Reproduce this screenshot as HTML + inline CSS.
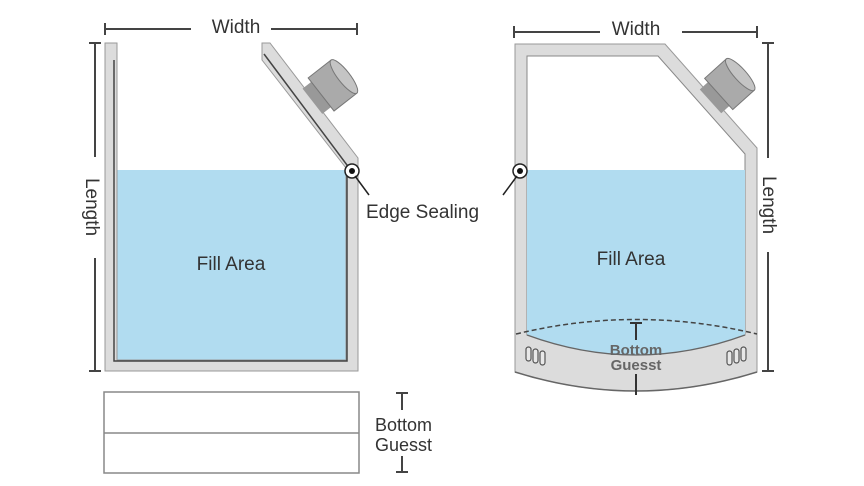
<!DOCTYPE html>
<html><head><style>
html,body{margin:0;padding:0;background:#fff;}
svg{display:block;}
text{font-family:"Liberation Sans",sans-serif;fill:#333;}
</style></head><body>
<svg width="864" height="486" viewBox="0 0 864 486" xmlns="http://www.w3.org/2000/svg">
<rect width="864" height="486" fill="#fff"/>
<!-- LEFT POUCH -->
<rect x="117" y="170" width="229" height="190" fill="#b1dcf0"/>
<g fill="#dcdcdc" stroke="#999" stroke-width="1">
<path d="M105 43 L117 43 L117 360 L346 360 L346 168 L262 60 L262 43 L270 43 L358 158 L358 371 L105 371 Z"/>
</g>
<path d="M114 60 L114 361 L347 361 L347 165 L264 54" fill="none" stroke="#444" stroke-width="1.5"/>
<!-- spout -->
<g transform="translate(314,100) rotate(52)">
<rect x="-16" y="-10" width="32" height="12" fill="#999"/>
<rect x="-21" y="-38" width="42" height="29" fill="#aaa" stroke="#777"/>
<ellipse cx="0" cy="-38" rx="21" ry="6" fill="#c4c4c4" stroke="#777"/>
</g>
<!-- width left -->
<g stroke="#444" stroke-width="2">
<line x1="105" y1="29" x2="191" y2="29"/><line x1="271" y1="29" x2="357" y2="29"/>
<line x1="105" y1="23" x2="105" y2="35"/><line x1="357" y1="23" x2="357" y2="35"/>
<line x1="95" y1="43" x2="95" y2="157"/><line x1="95" y1="258" x2="95" y2="371"/>
<line x1="89" y1="43" x2="101" y2="43"/><line x1="89" y1="371" x2="101" y2="371"/>
</g>
<text x="236" y="33" font-size="19" text-anchor="middle">Width</text>
<text transform="translate(86,207) rotate(90)" font-size="19" text-anchor="middle">Length</text>
<text x="231" y="270" font-size="19" text-anchor="middle">Fill Area</text>
<!-- edge sealing left -->
<circle cx="352" cy="171" r="7" fill="#fff" stroke="#222" stroke-width="1.5"/>
<circle cx="352" cy="171" r="3" fill="#111"/>
<line x1="355" y1="176" x2="369" y2="195" stroke="#222" stroke-width="1.5"/>
<text x="366" y="218" font-size="19">Edge Sealing</text>
<!-- bottom gusset rects -->
<rect x="104" y="392" width="255" height="81" fill="#fff" stroke="#888" stroke-width="1.5"/>
<line x1="104" y1="433" x2="359" y2="433" stroke="#888" stroke-width="1.5"/>
<g stroke="#444" stroke-width="2">
<line x1="402" y1="393" x2="402" y2="410"/><line x1="396" y1="393" x2="408" y2="393"/>
<line x1="402" y1="456" x2="402" y2="472"/><line x1="396" y1="472" x2="408" y2="472"/>
</g>
<text x="375" y="431" font-size="18">Bottom</text>
<text x="375" y="451" font-size="18">Guesst</text>
<!-- RIGHT POUCH -->
<path d="M515 44 L665 44 L757 148 L757 372 Q636 410 515 372 Z" fill="#dcdcdc" stroke="#999" stroke-width="1"/>
<path d="M527 56 L658 56 L745 154 L745 335 L527 335 Z" fill="#fff" stroke="#888" stroke-width="1"/>
<path d="M527 170 L745 170 L745 335 Q636 375 527 335 Z" fill="#b1dcf0"/>
<path d="M527 335 Q636 375 745 335" fill="none" stroke="#666" stroke-width="1.2"/>
<path d="M516 334 Q636 305 757 334" fill="none" stroke="#444" stroke-width="1.5" stroke-dasharray="5,3"/>
<path d="M515 372 Q636 410 757 372" fill="none" stroke="#666" stroke-width="1.5"/>
<g fill="#e8e8e8" stroke="#555" stroke-width="1.2">
<rect x="526" y="347" width="5" height="14" rx="2.5"/><rect x="533" y="349" width="5" height="14" rx="2.5"/><rect x="540" y="351" width="5" height="14" rx="2.5"/>
<rect x="727" y="351" width="5" height="14" rx="2.5"/><rect x="734" y="349" width="5" height="14" rx="2.5"/><rect x="741" y="347" width="5" height="14" rx="2.5"/>
</g>
<g transform="translate(712,100) rotate(48)">
<rect x="-16" y="-10" width="32" height="12" fill="#999"/>
<rect x="-21" y="-38" width="42" height="29" fill="#aaa" stroke="#777"/>
<ellipse cx="0" cy="-38" rx="21" ry="6" fill="#c4c4c4" stroke="#777"/>
</g>
<g stroke="#333" stroke-width="2">
<line x1="636" y1="324" x2="636" y2="340"/><line x1="630" y1="323" x2="642" y2="323"/>
<line x1="636" y1="374" x2="636" y2="395"/>
</g>
<text x="636" y="355" font-size="15" font-weight="bold" text-anchor="middle" style="fill:#666">Bottom</text>
<text x="636" y="370" font-size="15" font-weight="bold" text-anchor="middle" style="fill:#666">Guesst</text>
<g stroke="#444" stroke-width="2">
<line x1="514" y1="32" x2="600" y2="32"/><line x1="682" y1="32" x2="757" y2="32"/>
<line x1="514" y1="26" x2="514" y2="38"/><line x1="757" y1="26" x2="757" y2="38"/>
<line x1="768" y1="43" x2="768" y2="158"/><line x1="768" y1="252" x2="768" y2="371"/>
<line x1="762" y1="43" x2="774" y2="43"/><line x1="762" y1="371" x2="774" y2="371"/>
</g>
<text x="636" y="35" font-size="19" text-anchor="middle">Width</text>
<text transform="translate(763,205) rotate(90)" font-size="19" text-anchor="middle">Length</text>
<text x="631" y="265" font-size="19" text-anchor="middle">Fill Area</text>
<circle cx="520" cy="171" r="7" fill="#fff" stroke="#222" stroke-width="1.5"/>
<circle cx="520" cy="171" r="3" fill="#111"/>
<line x1="517" y1="176" x2="503" y2="195" stroke="#222" stroke-width="1.5"/>
</svg>
</body></html>
